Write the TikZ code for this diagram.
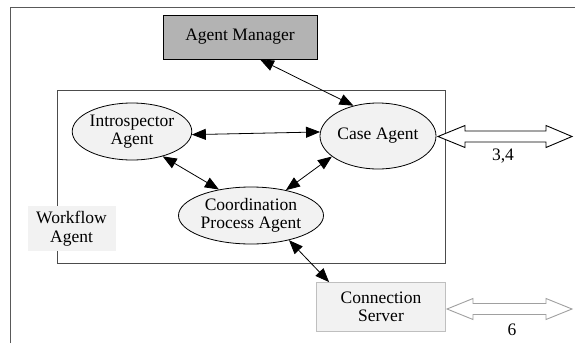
\documentclass[tikz,border=0pt]{standalone}
\usepackage{fontspec}
\setmainfont{Liberation Serif}
\usetikzlibrary{arrows.meta,shapes.geometric}
\definecolor{mgray}{HTML}{B3B3B3}
\definecolor{lgray}{HTML}{F2F2F2}
\definecolor{bgray}{HTML}{BFBFBF}
\definecolor{agray}{HTML}{A0A0A0}
\tikzset{
  x=1pt,y=-1pt,
  every node/.style={font=\fontsize{17.5}{18.5}\selectfont, align=center, inner sep=0pt},
  agent/.style={ellipse, draw=black, fill=lgray, line width=0.8pt},
  link/.style={line width=0.8pt, {Triangle[length=14pt,width=11pt]}-{Triangle[length=14pt,width=11pt]}},
}
\begin{document}
\begin{tikzpicture}
\useasboundingbox (0,0) rectangle (575,343);
% outer frame
\draw[line width=0.9pt, draw=black!65] (10,343) -- (10,7) -- (575,7);
% workflow container
\node[draw=black!70, line width=0.8pt, minimum width=388, minimum height=173, anchor=north west] (wf) at (57,90) {};
\node[fill=lgray, minimum width=88, minimum height=45] (wflabel) at (71.5,228.5) {Workflow\\Agent};
% agent manager
\node[draw=black, fill=mgray, line width=0.8pt, minimum width=154, minimum height=44] (am) at (240,37) {Agent Manager};
% agents
\node[agent, minimum width=114, minimum height=57] (intro) at (132,131.5) {Introspector\\Agent};
\node[agent, minimum width=116, minimum height=66] (case) at (378,136) {Case Agent};
\node[agent, minimum width=145, minimum height=57] (coord) at (251,215.5) {Coordination\\Process Agent};
% connection server
\node[draw=bgray, fill=lgray, line width=0.8pt, minimum width=129, minimum height=49] (cs) at (381,307) {Connection\\Server};
% connectors
\draw[link] ([xshift=20pt]am.south) -- (case.129);
\draw[link] (intro.-3) -- (case.176);
\draw[link] (intro.-39) -- (coord.141);
\draw[link] (case.-156) -- (coord.36);
\draw[link] (coord.-33) -- ([xshift=13pt]cs.north west);
% double arrows
\coordinate (d1s) at (438,136.5);
\coordinate (d1e) at (572,136.5);
\draw[line width=0.9pt, fill=white]
  (d1s) -- ++(27,-11) -- ++(0,5.5) -- (546,131) -- ++(0,-5.5) -- (d1e) -- (546,147.5) -- ++(0,-5.5) -- (465,142) -- ++(0,5.5) -- cycle;
\node (l34) at (503,156) {3,4};
\coordinate (d2s) at (447,309);
\coordinate (d2e) at (572,309);
\draw[line width=0.9pt, draw=agray, fill=white]
  (d2s) -- ++(26,-10.5) -- ++(0,5) -- (546,303.5) -- ++(0,-5) -- (d2e) -- (546,319.5) -- ++(0,-5) -- (473,314.5) -- ++(0,5) -- cycle;
\node (l6) at (512,330) {6};
\end{tikzpicture}
\end{document}
